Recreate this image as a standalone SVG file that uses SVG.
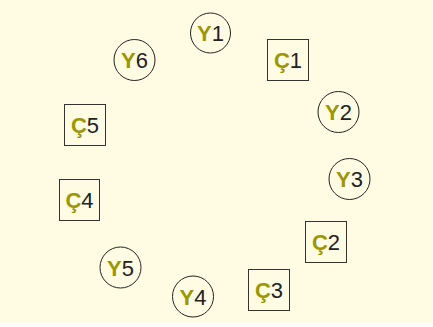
<svg xmlns="http://www.w3.org/2000/svg" width="433" height="327" viewBox="0 0 433 327">
<style>
.c{fill:none;stroke:#222;stroke-width:1}
.r{fill:none;stroke:#333;stroke-width:1}
text{font-family:"Liberation Sans",Arial,sans-serif;font-size:22px;text-anchor:middle;fill:#222}
.k{font-weight:bold;fill:#9c9600}
</style>
<rect x="0" y="0" width="432" height="323" fill="#fffce3"/>
<g id="connectors"></g>
<g id="Y1"><circle class="c" cx="210.5" cy="33" r="20"/><text x="210.5" y="41"><tspan class="k">Y</tspan>1</text></g>
<g id="C1"><rect class="r" x="267.5" y="39.5" width="41" height="41"/><text x="288" y="68"><tspan class="k">Ç</tspan>1</text></g>
<g id="Y2"><circle class="c" cx="338.5" cy="112" r="20.5"/><text x="338.5" y="120"><tspan class="k">Y</tspan>2</text></g>
<g id="Y3"><circle class="c" cx="349.5" cy="179" r="20.5"/><text x="349.5" y="187"><tspan class="k">Y</tspan>3</text></g>
<g id="C2"><rect class="r" x="305.5" y="221.5" width="41" height="41"/><text x="326" y="250"><tspan class="k">Ç</tspan>2</text></g>
<g id="C3"><rect class="r" x="248.5" y="269.5" width="41" height="41"/><text x="269" y="298"><tspan class="k">Ç</tspan>3</text></g>
<g id="Y4"><circle class="c" cx="193" cy="296.5" r="20.5"/><text x="193" y="304.5"><tspan class="k">Y</tspan>4</text></g>
<g id="Y5"><circle class="c" cx="120.5" cy="267.5" r="20.5"/><text x="120.5" y="275.5"><tspan class="k">Y</tspan>5</text></g>
<g id="C4"><rect class="r" x="59.5" y="179.5" width="40" height="41"/><text x="79.5" y="208"><tspan class="k">Ç</tspan>4</text></g>
<g id="C5"><rect class="r" x="64.5" y="104.5" width="41" height="41"/><text x="85" y="133"><tspan class="k">Ç</tspan>5</text></g>
<g id="Y6"><circle class="c" cx="134.5" cy="60" r="20.5"/><text x="134.5" y="68"><tspan class="k">Y</tspan>6</text></g>
</svg>
